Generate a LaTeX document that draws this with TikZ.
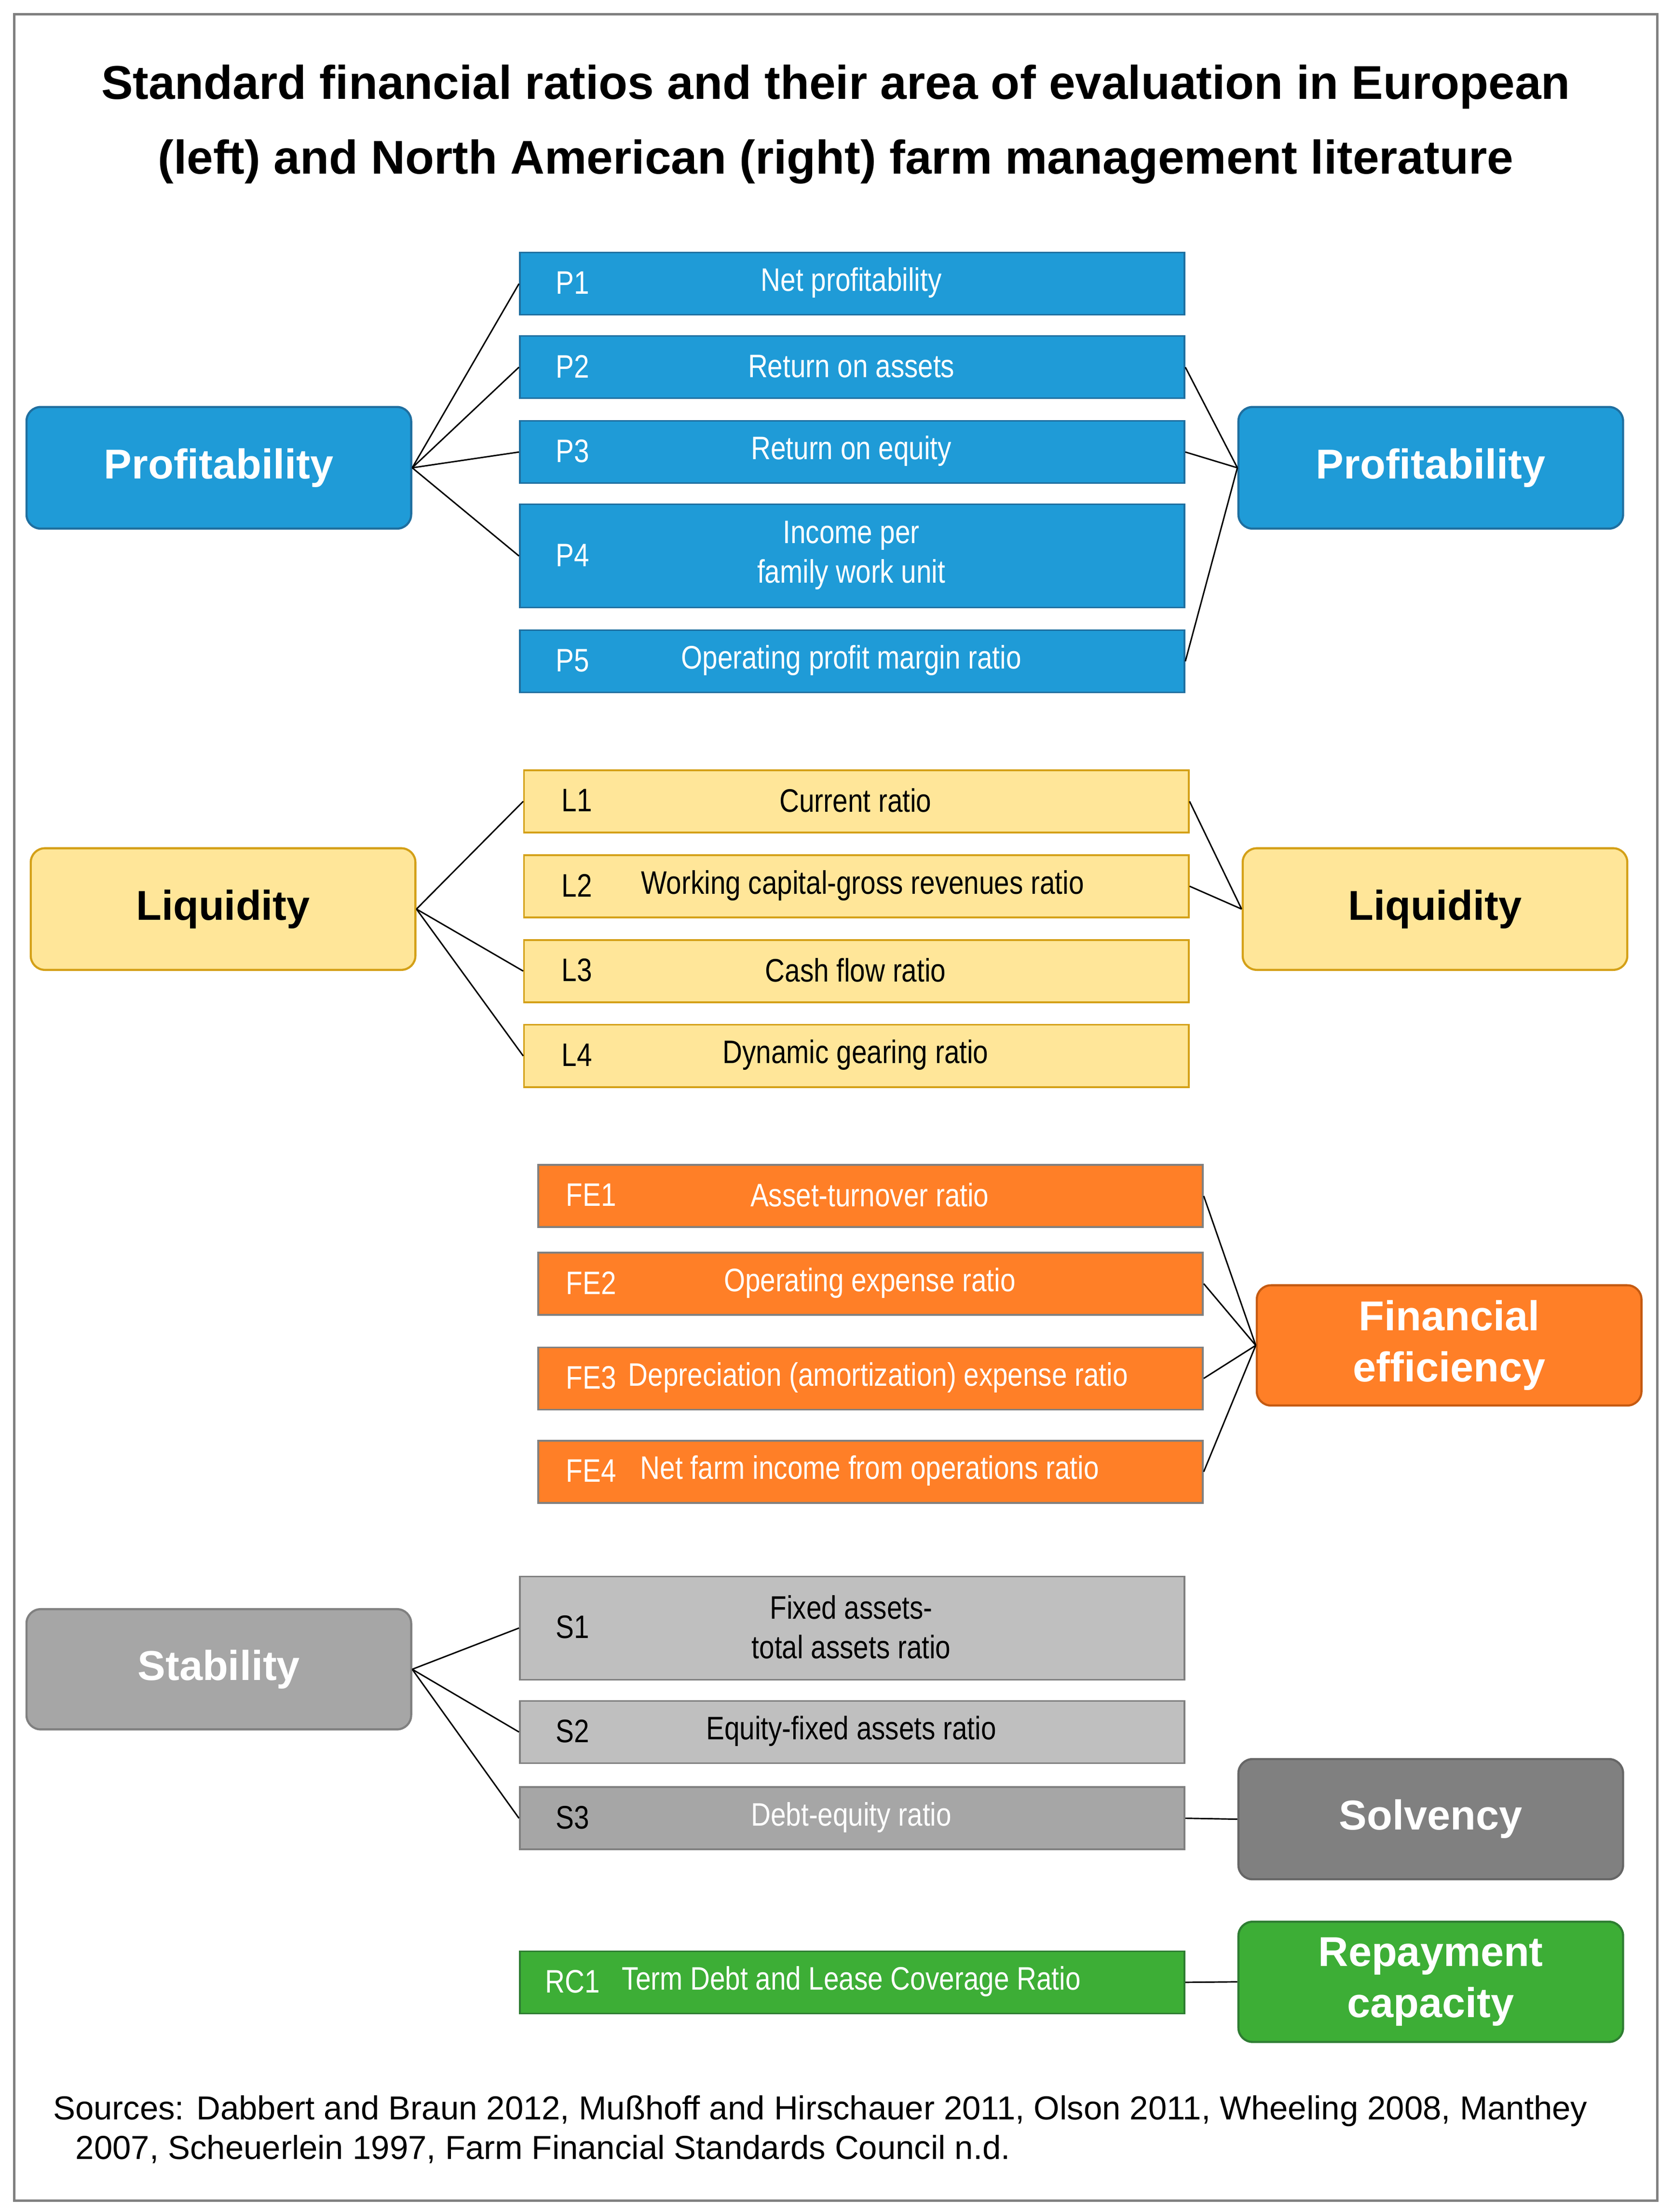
\documentclass[tikz,border=0pt]{standalone}
\usepackage{fontspec}
\setmainfont{Liberation Sans}
\newfontfamily\narrow{Liberation Sans}[FakeStretch=0.84]
\definecolor{bluef}{HTML}{1F9BD7}\definecolor{blued}{HTML}{1F6FA0}
\definecolor{yelf}{HTML}{FFE699}\definecolor{yeld}{HTML}{D4A017}
\definecolor{oraf}{HTML}{FF7F27}\definecolor{orad}{HTML}{C55A11}
\definecolor{grl}{HTML}{BFBFBF}\definecolor{grm}{HTML}{A6A6A6}\definecolor{grd}{HTML}{808080}
\definecolor{grnf}{HTML}{3DAE36}\definecolor{grnd}{HTML}{2E7D32}
\newcommand\rbox[8]{%
  \node[#6,draw,line width=1.2pt,minimum width={#4-#2},minimum height={#5-#3},inner sep=0pt,anchor=north west] (#1) at (#2,#3) {};
  \node[font=\narrow\fontsize{23}{28}\selectfont,anchor=center] at ({#2+38},{(#3+#5)/2}) {#7};
  \node[font=\narrow\fontsize{23}{28}\selectfont,align=center,anchor=center] at ({(#2+#4)/2},{(#3+#5)/2}) {#8};}
\newcommand\cbox[7]{%
  \node[#6,draw,line width=1.5pt,rounded corners=10pt,minimum width={#4-#2},minimum height={#5-#3},inner sep=0pt,anchor=north west,font=\bfseries\fontsize{29.5}{36}\selectfont,align=center] (#1) at (#2,#3) {#7};}
\tikzset{
 pb/.style={fill=bluef,draw=blued,text=white},
 lb/.style={fill=yelf,draw=yeld,text=black},
 fb/.style={fill=oraf,draw=grd,text=white},
 s1/.style={fill=grl,draw=grd,text=black},
 s3/.style={fill=grm,draw=grd,text=white},
 rb/.style={fill=grnf,draw=grnd,text=white},
 con/.style={line width=1pt,black}}
\begin{document}
\begin{tikzpicture}[x=1pt,y=-1pt]
\useasboundingbox (0,0) rectangle (1183,1564);
\draw[grd,line width=1.5pt] (10,10) rectangle (1172,1556);
\node[font=\bfseries\fontsize{33.5}{53}\selectfont,align=center] (title) at (591,88) {Standard financial ratios and their area of evaluation in European\\(left) and North American (right) farm management literature};
% profitability
\rbox{p1}{367}{178}{837}{222}{pb}{\color{white}P1}{\color{white}Net profitability}
\rbox{p2}{367}{237}{837}{281}{pb}{\color{white}P2}{\color{white}Return on assets}
\rbox{p3}{367}{297}{837}{341}{pb}{\color{white}P3}{\color{white}Return on equity}
\rbox{p4}{367}{356}{837}{429}{pb}{\color{white}P4}{\color{white}Income per\\\color{white}family work unit}
\rbox{p5}{367}{445}{837}{489}{pb}{\color{white}P5}{\color{white}Operating profit margin ratio}
\cbox{lp}{18}{287}{290}{373}{pb}{Profitability}
\cbox{rp}{875}{287}{1147}{373}{pb}{Profitability}
\foreach \n in {p1,p2,p3,p4} \draw[con] (lp.east) -- (\n.west);
\foreach \n in {p2,p3,p5} \draw[con] (\n.east) -- (rp.west);
% liquidity
\rbox{l1}{370}{544}{840}{588}{lb}{L1}{Current ratio}
\rbox{l2}{370}{604}{840}{648}{lb}{L2}{\hspace{10pt}Working capital-gross revenues ratio}
\rbox{l3}{370}{664}{840}{708}{lb}{L3}{Cash flow ratio}
\rbox{l4}{370}{724}{840}{768}{lb}{L4}{Dynamic gearing ratio}
\cbox{ll}{21}{599}{293}{685}{lb}{Liquidity}
\cbox{rl}{878}{599}{1150}{685}{lb}{Liquidity}
\foreach \n in {l1,l3,l4} \draw[con] (ll.east) -- (\n.west);
\foreach \n in {l1,l2} \draw[con] (\n.east) -- (rl.west);
% financial efficiency
\rbox{f1}{380}{823}{850}{867}{fb}{\color{white}FE1}{\color{white}Asset-turnover ratio}
\rbox{f2}{380}{885}{850}{929}{fb}{\color{white}FE2}{\color{white}Operating expense ratio}
\rbox{f3}{380}{952}{850}{996}{fb}{\color{white}FE3}{\color{white}\hspace{12pt}Depreciation (amortization) expense ratio}
\rbox{f4}{380}{1018}{850}{1062}{fb}{\color{white}FE4}{\color{white}Net farm income from operations ratio}
\cbox{rf}{888}{908}{1160}{993}{fill=oraf,draw=orad,text=white}{Financial\\efficiency}
\foreach \n in {f1,f2,f3,f4} \draw[con] (\n.east) -- (rf.west);
% stability
\rbox{s1}{367}{1114}{837}{1187}{s1}{S1}{Fixed assets-\\total assets ratio}
\rbox{s2}{367}{1202}{837}{1246}{s1}{S2}{Equity-fixed assets ratio}
\rbox{s3}{367}{1263}{837}{1307}{s3}{S3}{\color{white}Debt-equity ratio}
\cbox{ls}{18}{1137}{290}{1222}{fill=grm,draw=grd,text=white}{Stability}
\cbox{rs}{875}{1243}{1147}{1328}{fill=grd,draw=grd!80!black,text=white}{Solvency}
\foreach \n in {s1,s2,s3} \draw[con] (ls.east) -- (\n.west);
\draw[con] (s3.east) -- (rs.west);
% repayment
\rbox{rc}{367}{1379}{837}{1423}{rb}{\color{white}RC1}{\color{white}Term Debt and Lease Coverage Ratio}
\cbox{rr}{875}{1358}{1147}{1443}{fill=grnf,draw=grnd,text=white}{Repayment\\capacity}
\draw[con] (rc.east) -- (rr.west);
\node[font=\fontsize{23.5}{28}\selectfont,align=left,anchor=north west] (src) at (34,1478) {Sources: Dabbert and Braun 2012, Mußhoff and Hirschauer 2011, Olson 2011, Wheeling 2008, Manthey\\\hspace{16pt}2007, Scheuerlein 1997, Farm Financial Standards Council n.d.};
\end{tikzpicture}
\end{document}
